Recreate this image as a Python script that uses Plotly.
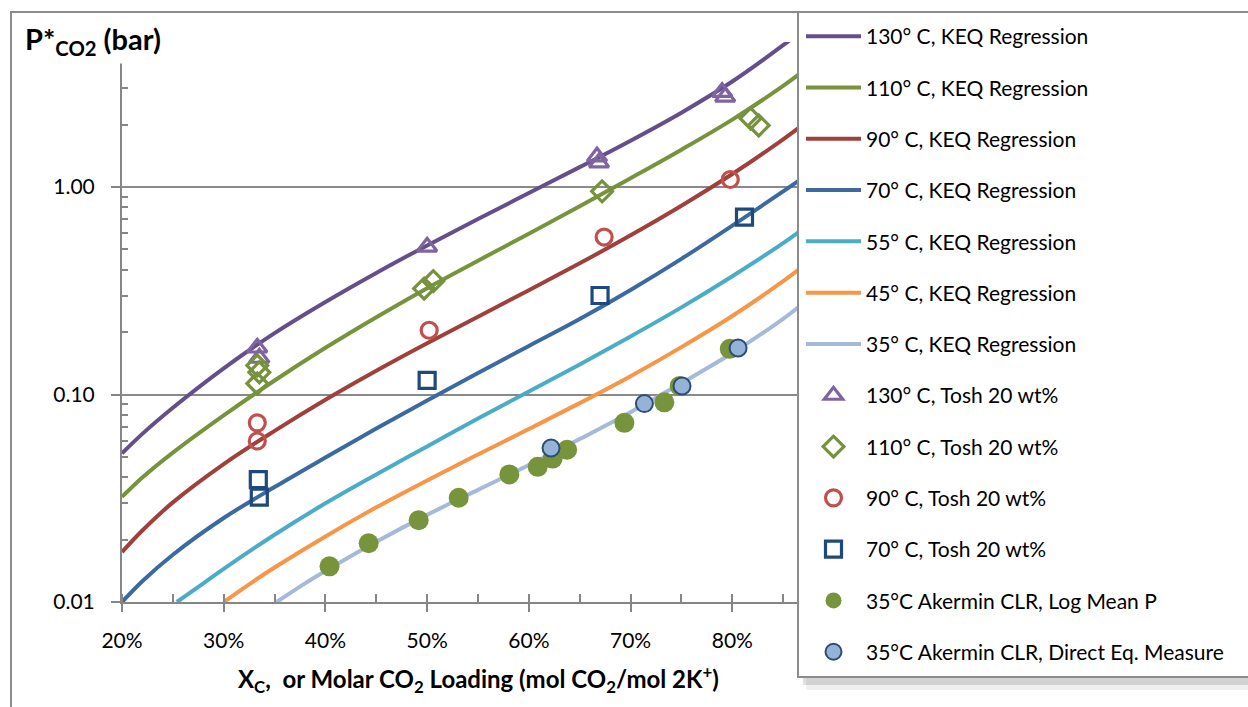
import plotly.graph_objects as go

# ---- regression curves (KEQ model), x = molar CO2 loading, y = P*CO2 in bar ----
x_130 = [0.20, 0.22, 0.25, 0.30, 0.35, 0.40, 0.45, 0.50, 0.55, 0.60, 0.65, 0.70, 0.75, 0.80, 0.85, 0.87]
y_130 = [0.0520, 0.0646, 0.0863, 0.1337, 0.1977, 0.2793, 0.3855, 0.5231, 0.7015, 0.9354, 1.247, 1.673, 2.283, 3.225, 4.826, 5.749]

x_110 = [0.20, 0.22, 0.25, 0.30, 0.35, 0.40, 0.45, 0.50, 0.55, 0.60, 0.65, 0.70, 0.75, 0.80, 0.85, 0.87]
y_110 = [0.0321, 0.0398, 0.0525, 0.0794, 0.1168, 0.1679, 0.2358, 0.3256, 0.4416, 0.5957, 0.8081, 1.103, 1.514, 2.113, 3.073, 3.627]

x_90 = [0.20, 0.22, 0.25, 0.30, 0.35, 0.40, 0.45, 0.50, 0.55, 0.60, 0.65, 0.70, 0.75, 0.80, 0.85, 0.87]
y_90 = [0.0174, 0.0221, 0.0302, 0.0462, 0.0668, 0.0944, 0.1303, 0.1768, 0.2371, 0.3181, 0.4290, 0.5855, 0.8128, 1.155, 1.698, 2.004]

x_70 = [0.20, 0.22, 0.25, 0.30, 0.35, 0.40, 0.45, 0.50, 0.55, 0.60, 0.65, 0.70, 0.75, 0.80, 0.85, 0.87]
y_70 = [0.0100, 0.0126, 0.0169, 0.0254, 0.0358, 0.0497, 0.0686, 0.0936, 0.1271, 0.1714, 0.2312, 0.3192, 0.4508, 0.6516, 0.9528, 1.114]

x_55 = [0.254, 0.28, 0.30, 0.35, 0.40, 0.45, 0.50, 0.55, 0.60, 0.65, 0.70, 0.75, 0.80, 0.85, 0.87]
y_55 = [0.0100, 0.0123, 0.01445, 0.0211, 0.0299, 0.0412, 0.0562, 0.0767, 0.1035, 0.1396, 0.1905, 0.263, 0.3715, 0.537, 0.631]

x_45 = [0.30, 0.33, 0.35, 0.40, 0.45, 0.50, 0.55, 0.60, 0.65, 0.70, 0.75, 0.80, 0.85, 0.87]
y_45 = [0.0100, 0.01265, 0.01466, 0.0207, 0.02858, 0.03855, 0.0514, 0.06817, 0.0909, 0.1226, 0.1692, 0.2390, 0.3516, 0.4169]

x_35 = [0.352, 0.38, 0.40, 0.45, 0.50, 0.55, 0.60, 0.65, 0.70, 0.75, 0.80, 0.85, 0.87]
y_35 = [0.0100, 0.0123, 0.0141, 0.0195, 0.0263, 0.0347, 0.0457, 0.061, 0.0822, 0.1135, 0.1585, 0.2317, 0.2754]

# ---- Tosh 20 wt% measurements ----
tosh130_x = [0.333, 0.335, 0.500, 0.667, 0.669, 0.790, 0.793]
tosh130_y = [0.168, 0.150, 0.515, 1.40, 1.31, 2.87, 2.72]

tosh110_x = [0.333, 0.335, 0.333, 0.497, 0.506, 0.672, 0.818, 0.826]
tosh110_y = [0.138, 0.128, 0.113, 0.324, 0.352, 0.953, 2.14, 1.98]

tosh90_x = [0.333, 0.333, 0.502, 0.674, 0.798]
tosh90_y = [0.073, 0.0597, 0.204, 0.574, 1.087]

tosh70_x = [0.334, 0.335, 0.500, 0.670, 0.812]
tosh70_y = [0.0389, 0.0320, 0.117, 0.300, 0.716]

# ---- Akermin CLR, 35 C ----
logmean_x = [0.404, 0.4425, 0.4917, 0.531, 0.5808, 0.6087, 0.6234, 0.6376, 0.6939, 0.7332, 0.7483, 0.7975]
logmean_y = [0.01486, 0.0192, 0.0248, 0.0318, 0.0412, 0.0448, 0.0491, 0.0542, 0.073, 0.0917, 0.110, 0.166]

direct_x = [0.6218, 0.7136, 0.7506, 0.8057]
direct_y = [0.0552, 0.0904, 0.110, 0.1675]

x_ticks = [0.2, 0.3, 0.4, 0.5, 0.6, 0.7, 0.8]
y_ticks = [0.01, 0.1, 1.0]
y_tick_text = ["0.01", "0.10", "1.00"]
y_minor = [0.02, 0.03, 0.04, 0.05, 0.06, 0.07, 0.08, 0.09,
           0.2, 0.3, 0.4, 0.5, 0.6, 0.7, 0.8, 0.9, 2, 3, 4]

FONT = "Lato, 'Open Sans', sans-serif"
AXIS_GREY = "#868686"

# page geometry (pixels) for the plotting area
W, H = 1248, 707
L, R, T, B = 122, 834, 42, 602


def px(xp):
    return (xp - L) / (R - L)


def py(yp):
    return (B - yp) / (B - T)


fig = go.Figure()

curves = [
    (x_130, y_130, "#654f8a", "130° C, KEQ Regression"),
    (x_110, y_110, "#77933c", "110° C, KEQ Regression"),
    (x_90, y_90, "#a0403c", "90° C, KEQ Regression"),
    (x_70, y_70, "#3c6aa0", "70° C, KEQ Regression"),
    (x_55, y_55, "#4bacc6", "55° C, KEQ Regression"),
    (x_45, y_45, "#f79646", "45° C, KEQ Regression"),
    (x_35, y_35, "#a7b9d8", "35° C, KEQ Regression"),
]
for i, (xs, ys, col, name) in enumerate(curves):
    fig.add_trace(go.Scatter(
        x=xs, y=ys, mode="lines", name=name, legendgroup=f"g{i}",
        line=dict(color=col, width=4, shape="spline", smoothing=1.0),
    ))

open_sets = [
    (tosh130_x, tosh130_y, "triangle-up-open", "#8064a2", 17, "130° C, Tosh 20 wt%"),
    (tosh110_x, tosh110_y, "diamond-open", "#76923c", 16, "110° C, Tosh 20 wt%"),
    (tosh90_x, tosh90_y, "circle-open", "#c0504d", 16, "90° C, Tosh 20 wt%"),
    (tosh70_x, tosh70_y, "square-open", "#1f497d", 16, "70° C, Tosh 20 wt%"),
]
for j, (xs, ys, sym, col, size, name) in enumerate(open_sets):
    fig.add_trace(go.Scatter(
        x=xs, y=ys, mode="markers", name=name, legendgroup=f"m{j}",
        marker=dict(symbol=sym, size=size, color=col, line=dict(color=col, width=3.2)),
    ))

fig.add_trace(go.Scatter(
    x=logmean_x, y=logmean_y, mode="markers", name="35°C Akermin CLR, Log Mean P",
    legendgroup="a1", marker=dict(symbol="circle", size=20, color="#77933c"),
))
fig.add_trace(go.Scatter(
    x=direct_x, y=direct_y, mode="markers", name="35°C Akermin CLR, Direct Eq. Measure",
    legendgroup="a2",
    marker=dict(symbol="circle", size=17, color="#95b3d7", line=dict(color="#2c4d75", width=2)),
))

shapes = [
    # outer chart frame
    dict(type="rect", xref="paper", yref="paper", x0=px(11), x1=px(1262), y0=py(12), y1=py(730),
         line=dict(color="#8c8c8c", width=2), fillcolor="rgba(0,0,0,0)", layer="below"),
    # legend shadow
    dict(type="rect", xref="paper", yref="paper", x0=px(806), x1=px(1262), y0=py(677), y1=py(690),
         line=dict(width=0), fillcolor="rgba(0,0,0,0.06)", layer="above"),
    dict(type="rect", xref="paper", yref="paper", x0=px(803), x1=px(1262), y0=py(677), y1=py(685),
         line=dict(width=0), fillcolor="rgba(0,0,0,0.12)", layer="above"),
    # legend frame
    dict(type="rect", xref="paper", yref="paper", x0=px(798), x1=px(1262), y0=py(12), y1=py(677),
         line=dict(color="#8c8c8c", width=2), fillcolor="white", layer="above"),
]

annotations = [
    dict(text="<b>P*<sub>CO2</sub> (bar)</b>", xref="paper", yref="paper",
         x=px(21), y=py(40), xanchor="left", yanchor="middle", showarrow=False,
         font=dict(family=FONT, size=29, color="black"), bgcolor="white", borderpad=3),
    dict(text="<b>X<sub>C</sub>,  or Molar CO<sub>2</sub> Loading (mol CO<sub>2</sub>/mol 2K<sup>+</sup>)</b>",
         xref="paper", yref="paper", x=0.5, y=py(679), xanchor="center", yanchor="middle",
         showarrow=False, font=dict(family=FONT, size=24, color="black")),
]

fig.update_layout(
    width=W, height=H,
    margin=dict(l=L, r=W - R, t=T, b=H - B),
    paper_bgcolor="white", plot_bgcolor="white",
    font=dict(family=FONT, size=21, color="black"),
    showlegend=True,
    legend=dict(
        x=px(801), y=py(16), xanchor="left", yanchor="top",
        bgcolor="rgba(0,0,0,0)", borderwidth=0,
        font=dict(family=FONT, size=21, color="black"),
        tracegroupgap=21, itemwidth=55, itemsizing="trace", maxheight=700,
    ),
    xaxis=dict(
        range=[0.2, 0.9], tickvals=x_ticks, tickformat=".0%",
        showline=True, linecolor=AXIS_GREY, linewidth=2,
        ticks="outside", ticklen=8, tickwidth=2, tickcolor=AXIS_GREY,
        showgrid=False, zeroline=False, ticklabelstandoff=11,
        tickfont=dict(family=FONT, size=21),
        minor=dict(tick0=0.2, dtick=0.05, ticks="inside", ticklen=8, tickwidth=1.5,
                   tickcolor=AXIS_GREY, showgrid=False),
    ),
    yaxis=dict(
        type="log", range=[-2, 0.699], tickvals=y_ticks, ticktext=y_tick_text,
        showline=True, linecolor=AXIS_GREY, linewidth=2,
        ticks="outside", ticklen=9, tickwidth=2, tickcolor=AXIS_GREY,
        showgrid=True, gridcolor="#8a8a8a", gridwidth=2, zeroline=False,
        ticklabelstandoff=12, tickfont=dict(family=FONT, size=21),
        minor=dict(tickvals=y_minor, ticks="inside", ticklen=6, tickwidth=1.5,
                   tickcolor=AXIS_GREY, showgrid=False),
    ),
    shapes=shapes,
    annotations=annotations,
)

fig.write_html("out.html")
